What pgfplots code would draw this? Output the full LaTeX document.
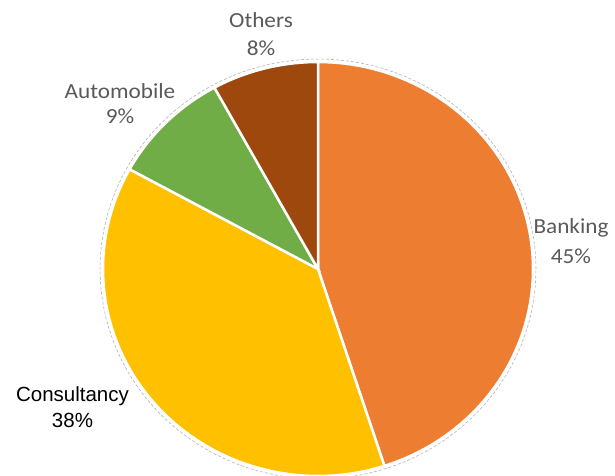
\documentclass[border=0pt]{standalone}
\usepackage{pgfplots}
\usepackage{pgfplotstable}
\pgfplotsset{compat=1.18}
\usepackage{fontspec}
\newfontfamily\carlito{Carlito}
\newfontfamily\libsans{Liberation Sans}
\definecolor{cBank}{HTML}{ED7D31}
\definecolor{cCons}{HTML}{FFC000}
\definecolor{cAuto}{HTML}{70AD47}
\definecolor{cOth}{HTML}{9E480E}
\definecolor{txtgray}{HTML}{595959}
\pgfplotstableread{
label value
Banking 45
Consultancy 38
Automobile 9
Others 8
}\piedata
\begin{document}
\begin{tikzpicture}
\pgfplotstablegetelem{0}{value}\of\piedata \let\vA\pgfplotsretval
\pgfplotstablegetelem{1}{value}\of\piedata \let\vB\pgfplotsretval
\pgfplotstablegetelem{2}{value}\of\piedata \let\vC\pgfplotsretval
\pgfplotstablegetelem{3}{value}\of\piedata \let\vD\pgfplotsretval
\pgfmathsetmacro\aA{90-3.6*\vA}
\pgfmathsetmacro\aB{\aA-3.6*\vB}
\pgfmathsetmacro\aC{\aB-3.6*\vC}
\pgfmathsetmacro\aD{\aC-3.6*\vD}
\begin{axis}[x=1bp, y=1bp, xmin=0, xmax=615, ymin=0, ymax=476,
  hide axis, clip=false, anchor=origin, at={(0,0)}]
% faint outline
\addplot[domain=0:360, samples=120, draw=black!30, line width=0.6bp, dash pattern=on 3bp off 2bp]
  ({318+218*cos(x)},{207+210*sin(x)});
% slices
\addplot[fill=cBank, draw=white, line width=2.5bp, domain=\aA:90, samples=100]
  ({318+215*cos(x)},{207+207*sin(x)}) -- (axis cs:318,207) -- cycle;
\addplot[fill=cCons, draw=white, line width=2.5bp, domain=\aB:\aA, samples=100]
  ({318+215*cos(x)},{207+207*sin(x)}) -- (axis cs:318,207) -- cycle;
\addplot[fill=cAuto, draw=white, line width=2.5bp, domain=\aC:\aB, samples=40]
  ({318+215*cos(x)},{207+207*sin(x)}) -- (axis cs:318,207) -- cycle;
\addplot[fill=cOth, draw=white, line width=2.5bp, domain=\aD:\aC, samples=40]
  ({318+215*cos(x)},{207+207*sin(x)}) -- (axis cs:318,207) -- cycle;
% labels
\begin{scope}[every node/.style={inner sep=0pt, anchor=base, xscale=1.08}]
\node[text=txtgray, font=\carlito\fontsize{21.5bp}{26bp}\selectfont] at (axis cs:261,449) {Others};
\node[text=txtgray, font=\carlito\fontsize{21.5bp}{26bp}\selectfont] at (axis cs:261,421) {8\%};
\node[text=txtgray, font=\carlito\fontsize{21.5bp}{26bp}\selectfont] at (axis cs:120,378) {Automobile};
\node[text=txtgray, font=\carlito\fontsize{21.5bp}{26bp}\selectfont] at (axis cs:120,353) {9\%};
\node[text=txtgray, font=\carlito\fontsize{21.5bp}{26bp}\selectfont] at (axis cs:571,243) {Banking};
\node[text=txtgray, font=\carlito\fontsize{21.5bp}{26bp}\selectfont] at (axis cs:571,213) {45\%};
\end{scope}
\node[inner sep=0pt, anchor=base, text=black, font=\libsans\fontsize{20.5bp}{25bp}\selectfont] at (axis cs:72.5,75) {Consultancy};
\node[inner sep=0pt, anchor=base, text=black, font=\libsans\fontsize{20.5bp}{25bp}\selectfont] at (axis cs:72.5,49) {38\%};
\end{axis}
\pgfresetboundingbox
\path[use as bounding box] (0,0) rectangle (615bp,476bp);
\end{tikzpicture}
\end{document}
